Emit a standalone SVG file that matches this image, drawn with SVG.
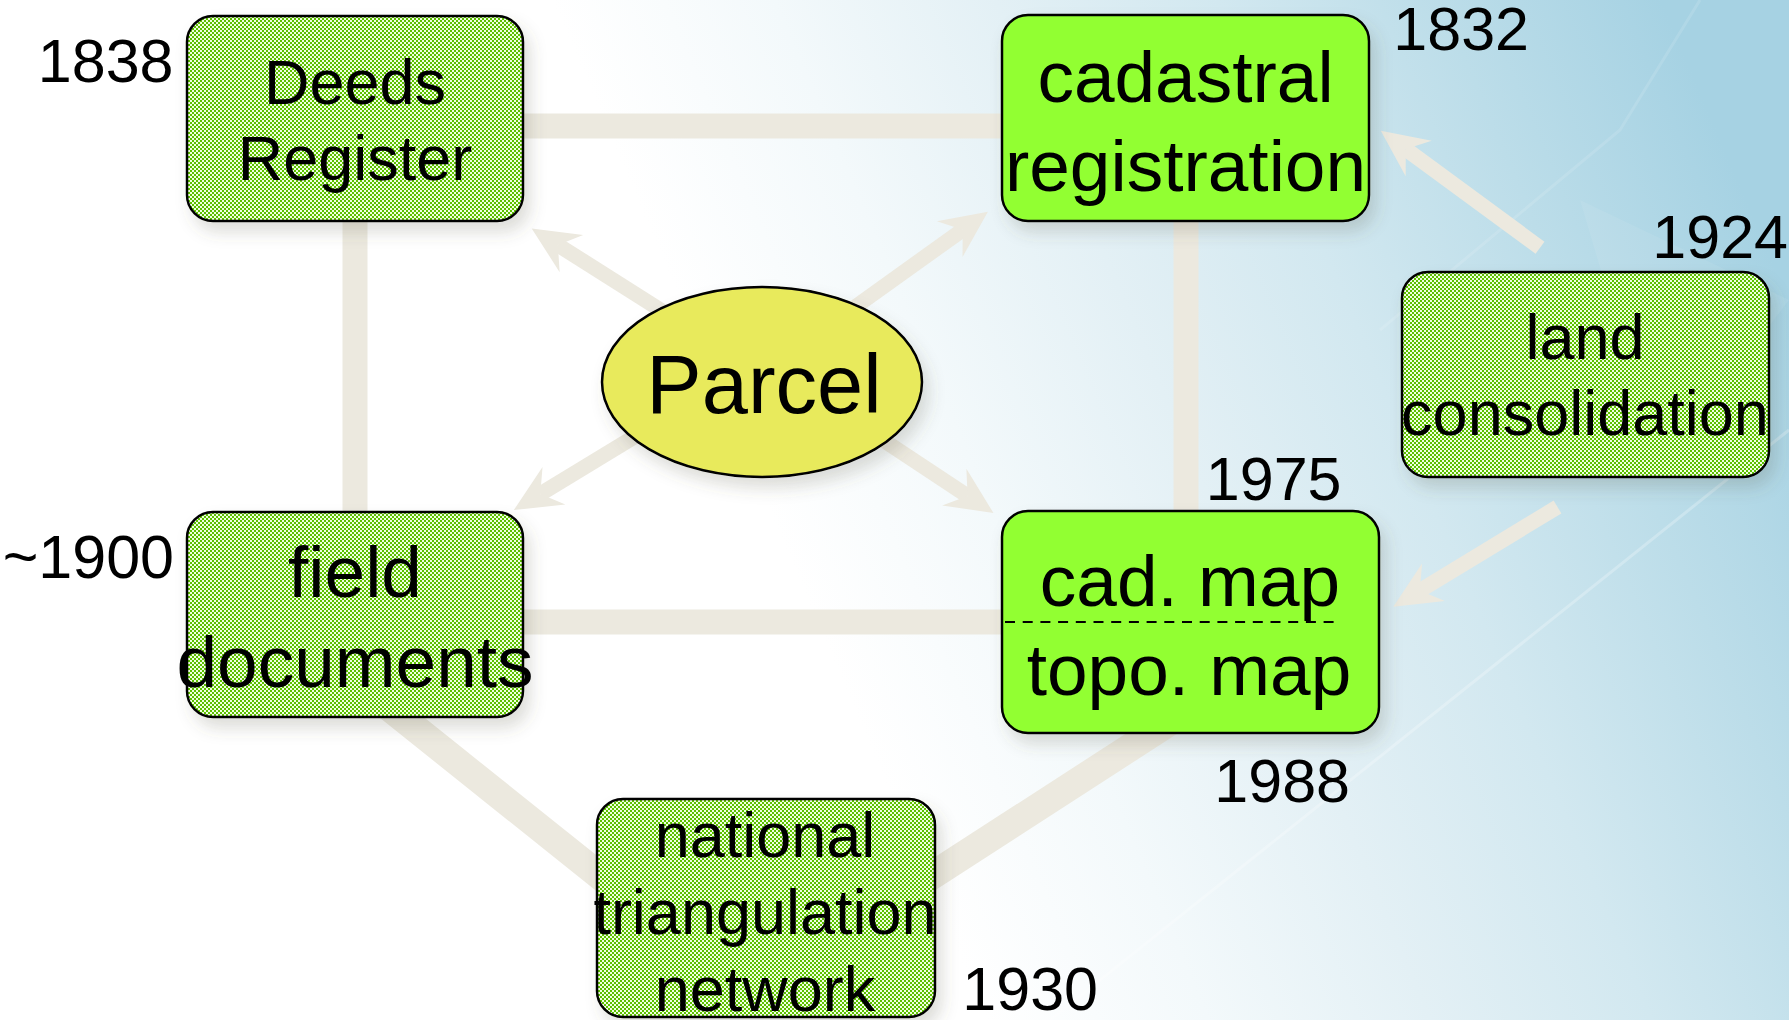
<svg xmlns="http://www.w3.org/2000/svg" width="1789" height="1020" viewBox="0 0 1789 1020">
  <defs>
    <style>
      .lbl { font-family: "Liberation Sans", Arial, sans-serif; fill: #000; }
      .yr { font-size: 61px; text-anchor: end; }
      .t62 { font-size: 63px; text-anchor: middle; }
      .t73 { font-size: 73px; text-anchor: middle; }
      .box { stroke: #000; stroke-width: 2.5; }
      .hatch { fill: url(#chk); }
      .bright { fill: #92ff33; }
      .frame { fill: none; stroke: #ece9df; stroke-width: 25; }
      .diag { fill: none; stroke: #ece9df; stroke-width: 28; }
      .arr { fill: none; stroke: #ece9df; stroke-width: 15; marker-end: url(#ah); }
    </style>
    <linearGradient id="bg" gradientUnits="userSpaceOnUse" x1="850" y1="700" x2="1789" y2="300">
      <stop offset="0" stop-color="#ffffff"/>
      <stop offset="0.2" stop-color="#f3f9fb"/>
      <stop offset="0.4" stop-color="#e3f0f5"/>
      <stop offset="0.6" stop-color="#d2e8f0"/>
      <stop offset="0.8" stop-color="#bcdde9"/>
      <stop offset="1" stop-color="#a6d2e3"/>
    </linearGradient>
    <pattern id="chk" width="4" height="4" patternUnits="userSpaceOnUse">
      <rect width="4" height="4" fill="#f0ffe0"/>
      <rect width="2" height="2" fill="#5cbf00"/>
      <rect x="2" y="2" width="2" height="2" fill="#5cbf00"/>
    </pattern>
    <filter id="sh" x="-20%" y="-20%" width="150%" height="150%">
      <feDropShadow dx="6" dy="10" stdDeviation="8" flood-color="#5a5a40" flood-opacity="0.2"/>
    </filter>
    <marker id="ah" markerUnits="userSpaceOnUse" orient="auto" refX="0" refY="0" markerWidth="60" markerHeight="60" overflow="visible">
      <path d="M31,0 L-16,-22 L0,0 L-16,22 Z" fill="#ece9df"/>
    </marker>
  </defs>

  <g id="background">
    <rect width="1789" height="1020" fill="url(#bg)"/>
    <path d="M1050,1020 L1789,430" stroke="#ffffff" stroke-opacity="0.25" stroke-width="3" fill="none"/>
    <path d="M1380,330 L1620,130 L1700,0" stroke="#ffffff" stroke-opacity="0.12" stroke-width="3" fill="none"/>
    <path d="M1580,200 L1660,470 L1789,300 Z" fill="#ffffff" fill-opacity="0.07"/>
  </g>

  <g id="connectors">
    <path class="frame" d="M355,126 H1186 V622 H355 Z"/>
    <path class="diag" d="M330,660 L700,956"/>
    <path class="diag" d="M1250,670 L800,961"/>
    <path class="arr" d="M700,335 L557.9,245"/>
    <path class="arr" d="M690,403 L540.3,494"/>
    <path class="arr" d="M830,325 L962.7,229.8"/>
    <path class="arr" d="M840,411.5 L967.6,495.9"/>
    <path class="arr" d="M1540,247.7 L1405.8,149.1"/>
    <path class="arr" d="M1557.5,507 L1419.8,590.6"/>
  </g>

  <g id="deeds-register">
    <rect class="box hatch" x="187" y="16" width="336" height="205" rx="26" filter="url(#sh)"/>
    <text class="lbl t62" x="355" y="104">Deeds</text>
    <text class="lbl t62" x="355" y="180">Register</text>
    <text class="lbl yr" x="173.5" y="82">1838</text>
  </g>

  <g id="cadastral-registration">
    <rect class="box bright" x="1002" y="15" width="367" height="206" rx="26" filter="url(#sh)"/>
    <text class="lbl t73" x="1185.5" y="102">cadastral</text>
    <text class="lbl t73" x="1185.5" y="191">registration</text>
    <text class="lbl yr" x="1529" y="50">1832</text>
  </g>

  <g id="land-consolidation">
    <rect class="box hatch" x="1402" y="272" width="367" height="205" rx="26" filter="url(#sh)"/>
    <text class="lbl t62" x="1585" y="359">land</text>
    <text class="lbl t62" x="1585" y="435">consolidation</text>
    <text class="lbl yr" x="1788" y="258">1924</text>
  </g>

  <g id="parcel">
    <ellipse cx="762" cy="382" rx="160" ry="95" fill="#e8ea5c" stroke="#000" stroke-width="2.5" filter="url(#sh)"/>
    <text class="lbl" x="764" y="413" font-size="83" text-anchor="middle">Parcel</text>
  </g>

  <g id="field-documents">
    <rect class="box hatch" x="187" y="512" width="336" height="205" rx="26" filter="url(#sh)"/>
    <text class="lbl t73" x="355" y="597">field</text>
    <text class="lbl t73" x="355" y="687">documents</text>
    <text class="lbl yr" x="174" y="578">~1900</text>
  </g>

  <g id="cad-topo-map">
    <rect class="box bright" x="1002" y="511" width="377" height="222" rx="26" filter="url(#sh)"/>
    <text class="lbl t73" x="1190" y="606">cad. map</text>
    <line x1="1005" y1="622" x2="1341" y2="622" stroke="#000" stroke-width="2" stroke-dasharray="10 7.7"/>
    <text class="lbl t73" x="1189" y="695">topo. map</text>
    <text class="lbl yr" x="1341.5" y="500">1975</text>
    <text class="lbl yr" x="1350" y="802">1988</text>
  </g>

  <g id="national-triangulation-network">
    <rect class="box hatch" x="597" y="799" width="338" height="218" rx="26" filter="url(#sh)"/>
    <text class="lbl t62" x="765" y="857">national</text>
    <text class="lbl t62" x="765" y="934">triangulation</text>
    <text class="lbl t62" x="765" y="1011">network</text>
    <text class="lbl yr" x="1098" y="1010">1930</text>
  </g>
</svg>
